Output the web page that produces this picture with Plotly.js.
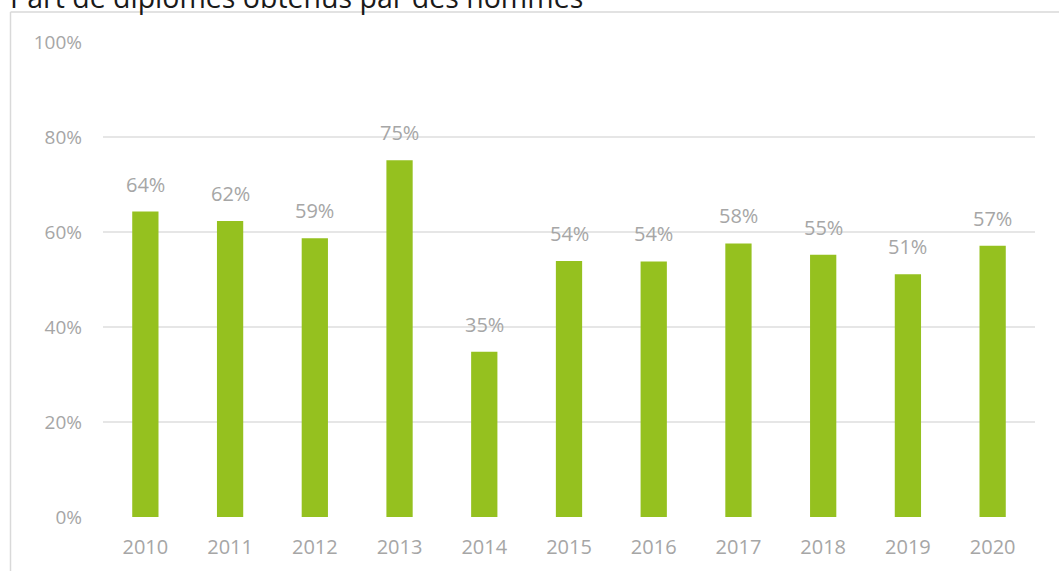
<!DOCTYPE html>
<html>
<head>
<meta charset="utf-8">
<script src="https://cdn.plot.ly/plotly-3.0.1.min.js"></script>
<style>html,body{margin:0;padding:0;background:#fff;}#chart{width:1059px;height:571px;}</style>
</head>
<body>
<div id="chart"></div>
<script>
const years = ['2010','2011','2012','2013','2014','2015','2016','2017','2018','2019','2020'];
const shareMen = [0.643, 0.623, 0.587, 0.751, 0.348, 0.539, 0.538, 0.576, 0.552, 0.511, 0.571];
const yTicks = [0, 0.2, 0.4, 0.6, 0.8, 1.0];
const titleText = 'Part de diplômes obtenus par des hommes';

const FONT = 'Open Sans, DejaVu Sans, sans-serif';
const GREY = '#a6a6a6';

const trace = {
  type: 'bar',
  x: years,
  y: shareMen,
  marker: {color: '#95c11f'},
  hoverinfo: 'x+y'
};

const labels = years.map((yr, i) => ({
  x: i, y: shareMen[i], xref: 'x', yref: 'y',
  text: Math.round(shareMen[i] * 100) + '%',
  showarrow: false, yanchor: 'bottom', yshift: 12,
  font: {family: FONT, size: 20, color: GREY}
}));

const L = 103, R = 1035, T = 42, B = 517;
const px = v => (v - L) / (R - L);
const py = v => (B - v) / (B - T);

labels.push({
  text: titleText, xref: 'paper', yref: 'paper',
  x: px(9), y: py(-3), xanchor: 'left', yanchor: 'middle',
  showarrow: false, borderpad: 0,
  font: {family: FONT, size: 28.5, color: '#1a1a1a'}
});

const layout = {
  width: 1059, height: 571,
  margin: {l: L, r: 1059 - R, t: T, b: 571 - B, pad: 0},
  paper_bgcolor: '#fff', plot_bgcolor: '#fff',
  bargap: 0.69,
  showlegend: false,
  xaxis: {
    type: 'category',
    categoryarray: years, categoryorder: 'array',
    range: [-0.5, years.length - 0.5],
    showgrid: false, zeroline: false, showline: false,
    ticks: '', ticklabelstandoff: 16,
    tickfont: {family: FONT, size: 20, color: GREY}
  },
  yaxis: {
    range: [0, 1], fixedrange: true,
    tickvals: yTicks, tickformat: '.0%',
    showgrid: true, gridcolor: '#e6e6e6', gridwidth: 1.5,
    zeroline: false, showline: false,
    ticks: '', ticklabelstandoff: 20,
    tickfont: {family: FONT, size: 19, color: GREY}
  },
  annotations: labels,
  shapes: [
    {type: 'line', xref: 'paper', yref: 'paper', x0: px(10.5), x1: px(10.5), y0: py(12), y1: py(575), line: {color: '#d9d9d9', width: 1.5}},
    {type: 'line', xref: 'paper', yref: 'paper', x0: px(10.5), x1: px(1065), y0: py(12), y1: py(12), line: {color: '#d9d9d9', width: 1.5}}
  ]
};

Plotly.newPlot('chart', [trace], layout, {displayModeBar: false, staticPlot: true});
</script>
</body>
</html>
